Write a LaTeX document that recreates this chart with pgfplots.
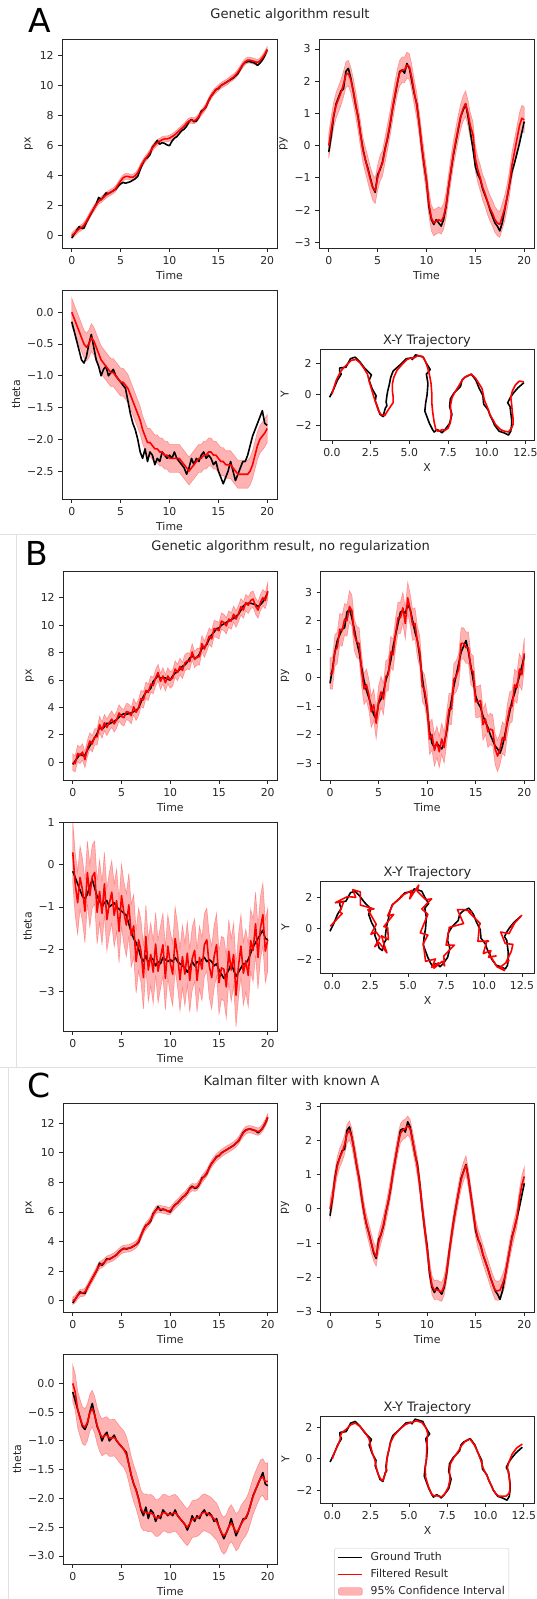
\documentclass[border=0pt]{standalone}
\usepackage{fontspec}
\setmainfont{DejaVu Sans}
\usepackage{pgfplots}
\pgfplotsset{compat=1.18}
\usepackage{pgfplotstable}
\usepgfplotslibrary{fillbetween}

\pgfplotstableread{
t px py th pxA pyA thA pxB pyB thB pxC pyC thC
0 -0.15 -0.2 -0.15 0.0 0.0 0.0 0.0 0.15 0.3 0.0 0.0 0.0
0.25 0.1 0.3 -0.3 0.15 0.5 -0.1 -0.1 0.15 -0.45 0.1 0.33 -0.15
0.5 0.35 0.9 -0.45 0.3 0.95 -0.2 0.65 0.95 -0.9 0.35 0.85 -0.45
0.75 0.6 1.3 -0.6 0.45 1.25 -0.3 0.5 1.05 -0.3 0.51 1.25 -0.6
1.0 0.5 1.5 -0.75 0.55 1.45 -0.4 0.75 1.7 -0.6 0.53 1.5 -0.73
1.25 0.5 1.7 -0.8 0.7 1.65 -0.5 0.2 1.65 -1.1 0.6 1.66 -0.76
1.5 0.9 1.75 -0.7 0.95 1.9 -0.55 1.0 2.05 -0.18 0.88 1.88 -0.68
1.75 1.2 2.3 -0.5 1.25 2.2 -0.5 1.55 2.0 -0.73 1.2 2.19 -0.51
2.0 1.5 2.4 -0.35 1.55 2.25 -0.4 1.35 2.5 -0.28 1.5 2.3 -0.44
2.25 1.8 2.1 -0.55 1.8 2.05 -0.45 1.85 2.35 -0.18 1.8 2.08 -0.55
2.5 2.1 1.7 -0.75 2.05 1.7 -0.55 1.85 1.5 -1.13 2.14 1.69 -0.73
2.75 2.55 1.25 -0.85 2.3 1.3 -0.65 2.75 1.25 -0.63 2.4 1.28 -0.86
3.0 2.4 0.9 -1.0 2.4 0.85 -0.75 2.35 1.2 -1.15 2.49 0.85 -0.94
3.25 2.6 0.35 -0.9 2.55 0.35 -0.8 2.9 0.25 -0.45 2.61 0.38 -0.91
3.5 2.85 -0.1 -0.85 2.7 -0.15 -0.85 2.55 -0.4 -1.3 2.78 -0.08 -0.9
3.75 2.8 -0.45 -1.0 2.8 -0.45 -0.9 2.9 -0.25 -0.93 2.84 -0.43 -0.95
4.0 2.9 -0.7 -0.95 2.9 -0.75 -0.95 3.15 -0.6 -0.65 2.9 -0.71 -0.95
4.25 3.0 -1.0 -0.9 3.0 -1.05 -0.95 2.8 -1.2 -1.2 3.0 -1.0 -0.94
4.5 3.1 -1.3 -1.0 3.15 -1.3 -1.0 3.1 -0.95 -0.85 3.13 -1.26 -0.99
4.75 3.3 -1.45 -1.05 3.4 -1.4 -1.05 3.6 -1.6 -1.58 3.29 -1.4 -1.05
5.0 3.45 -0.9 -1.1 3.65 -1.0 -1.1 3.35 -0.85 -0.73 3.44 -1.0 -1.1
5.25 3.55 -0.75 -1.15 3.85 -0.7 -1.1 3.25 -0.5 -1.15 3.51 -0.73 -1.15
5.5 3.5 -0.5 -1.2 3.95 -0.55 -1.15 3.7 -0.75 -1.43 3.53 -0.46 -1.24
5.75 3.55 -0.1 -1.4 3.95 -0.15 -1.2 3.65 0.05 -0.95 3.55 -0.13 -1.4
6.0 3.6 0.2 -1.6 3.9 0.25 -1.3 3.4 0.1 -1.68 3.61 0.23 -1.59
6.25 3.7 0.6 -1.75 3.9 0.65 -1.4 4.05 0.9 -1.45 3.7 0.63 -1.74
6.5 3.8 1.1 -1.85 4.0 1.1 -1.5 3.65 0.8 -2.3 3.81 1.08 -1.86
6.75 3.95 1.5 -2.0 4.2 1.55 -1.6 4.0 1.55 -1.78 4.03 1.5 -2.01
7.0 4.4 1.9 -2.2 4.55 1.95 -1.7 4.65 2.1 -2.05 4.39 1.9 -2.18
7.25 4.8 2.3 -2.3 4.85 2.25 -1.85 4.55 2.1 -2.68 4.78 2.21 -2.24
7.5 5.1 2.35 -2.15 5.1 2.35 -1.95 5.25 2.45 -1.7 5.05 2.31 -2.24
7.75 5.2 2.25 -2.35 5.3 2.35 -2.05 5.1 1.9 -2.5 5.23 2.35 -2.26
8.0 5.4 2.55 -2.2 5.55 2.5 -2.05 5.7 2.8 -2.13 5.48 2.44 -2.25
8.25 5.9 2.4 -2.25 5.85 2.45 -2.1 5.6 2.4 -2.55 5.83 2.34 -2.28
8.5 6.1 2.0 -2.4 6.05 2.1 -2.15 6.15 1.85 -1.88 6.11 2.0 -2.34
8.75 6.35 1.6 -2.3 6.2 1.65 -2.15 6.55 1.9 -2.53 6.23 1.63 -2.34
9.0 6.1 1.3 -2.35 6.3 1.25 -2.2 5.9 1.25 -2.2 6.19 1.23 -2.3
9.25 6.2 0.7 -2.2 6.4 0.7 -2.2 6.3 0.9 -1.9 6.16 0.68 -2.25
9.5 6.15 0.0 -2.25 6.45 0.05 -2.25 5.8 -0.3 -2.7 6.14 0.03 -2.25
9.75 6.05 -0.6 -2.3 6.45 -0.55 -2.25 6.3 -0.45 -1.93 6.06 -0.58 -2.28
10.0 6.0 -1.1 -2.25 6.5 -1.1 -2.3 6.0 -1.0 -2.33 6.09 -1.18 -2.28
10.25 6.3 -1.9 -2.3 6.6 -1.8 -2.3 6.15 -2.15 -2.6 6.28 -1.8 -2.26
10.5 6.5 -2.3 -2.2 6.7 -2.25 -2.3 6.8 -2.0 -1.75 6.48 -2.24 -2.25
10.75 6.6 -2.45 -2.3 6.85 -2.4 -2.3 6.55 -2.55 -2.15 6.63 -2.38 -2.29
11.0 6.8 -2.3 -2.35 7.0 -2.35 -2.3 7.0 -2.25 -2.73 6.8 -2.36 -2.35
11.25 7.0 -2.4 -2.4 7.15 -2.3 -2.35 6.7 -2.6 -2.18 6.98 -2.4 -2.4
11.5 7.1 -2.5 -2.45 7.3 -2.35 -2.4 7.25 -2.15 -2.6 7.13 -2.43 -2.46
11.75 7.3 -2.3 -2.55 7.5 -2.2 -2.45 7.4 -2.45 -2.1 7.33 -2.25 -2.5
12.0 7.6 -1.9 -2.45 7.65 -1.85 -2.5 7.35 -1.8 -2.75 7.56 -1.85 -2.44
12.25 7.75 -1.3 -2.3 7.7 -1.3 -2.45 8.05 -1.1 -2.23 7.68 -1.33 -2.36
12.5 7.6 -0.8 -2.4 7.65 -0.75 -2.4 7.5 -1.1 -2.03 7.65 -0.8 -2.35
12.75 7.65 -0.3 -2.3 7.75 -0.25 -2.35 7.7 -0.05 -2.75 7.7 -0.33 -2.34
13.0 7.9 0.1 -2.35 7.95 0.15 -2.3 7.7 0.05 -2.2 7.94 0.1 -2.31
13.25 8.3 0.5 -2.25 8.2 0.55 -2.3 8.65 0.3 -2.48 8.23 0.5 -2.26
13.5 8.4 0.9 -2.2 8.4 0.9 -2.25 8.25 1.2 -1.9 8.43 0.85 -2.24
13.75 8.6 1.1 -2.3 8.65 1.15 -2.25 8.7 1.2 -1.78 8.65 1.1 -2.26
14.0 9.0 1.3 -2.25 9.0 1.3 -2.2 9.2 1.05 -2.4 8.98 1.28 -2.28
14.25 9.3 0.9 -2.3 9.3 1.0 -2.2 9.0 1.05 -2.68 9.28 0.88 -2.31
14.5 9.5 0.4 -2.4 9.55 0.6 -2.25 9.75 0.3 -2.18 9.51 0.4 -2.36
14.75 9.75 -0.1 -2.35 9.7 0.35 -2.25 9.7 0.2 -1.9 9.7 -0.11 -2.4
15.0 9.8 -0.65 -2.5 9.85 -0.4 -2.3 9.6 -0.85 -2.8 9.84 -0.58 -2.49
15.25 10.0 -0.9 -2.6 10.0 -0.75 -2.35 10.3 -0.85 -2.45 9.98 -0.88 -2.6
15.5 10.1 -1.05 -2.7 10.1 -1.0 -2.35 10.2 -0.8 -2.48 10.1 -1.09 -2.65
15.75 10.2 -1.35 -2.6 10.2 -1.3 -2.4 9.95 -1.65 -2.9 10.2 -1.33 -2.6
16.0 10.3 -1.55 -2.5 10.3 -1.5 -2.4 10.45 -1.45 -2.05 10.3 -1.55 -2.49
16.25 10.4 -1.75 -2.35 10.45 -1.75 -2.4 10.3 -1.9 -2.5 10.4 -1.76 -2.43
16.5 10.5 -2.0 -2.5 10.55 -1.95 -2.45 10.8 -1.8 -2.13 10.51 -1.99 -2.5
16.75 10.65 -2.2 -2.65 10.7 -2.1 -2.5 10.45 -1.85 -3.1 10.65 -2.2 -2.59
17.0 10.8 -2.4 -2.55 10.9 -2.3 -2.55 10.85 -2.5 -2.4 10.84 -2.38 -2.55
17.25 11.1 -2.5 -2.45 11.15 -2.4 -2.55 11.35 -2.75 -1.93 11.1 -2.4 -2.45
17.5 11.4 -2.65 -2.35 11.4 -2.45 -2.55 11.1 -2.5 -2.58 11.36 -2.38 -2.38
17.75 11.55 -2.4 -2.35 11.6 -2.2 -2.55 11.65 -2.1 -2.28 11.53 -2.2 -2.33
18.0 11.6 -2.0 -2.25 11.7 -1.95 -2.55 11.45 -2.2 -2.63 11.59 -2.0 -2.24
18.25 11.6 -1.6 -2.1 11.7 -1.6 -2.5 11.8 -1.5 -1.8 11.59 -1.6 -2.1
18.5 11.55 -1.2 -1.95 11.65 -1.15 -2.4 11.9 -1.05 -2.03 11.55 -1.2 -1.96
18.75 11.5 -0.8 -1.85 11.6 -0.6 -2.25 11.4 -1.0 -1.4 11.48 -0.84 -1.85
19.0 11.35 -0.55 -1.75 11.55 -0.2 -2.1 11.1 -0.25 -2.2 11.43 -0.54 -1.75
19.25 11.5 -0.25 -1.65 11.65 0.2 -2.0 11.65 -0.35 -1.5 11.51 -0.25 -1.65
19.5 11.7 0.05 -1.55 11.85 0.6 -1.95 12.0 0.3 -1.18 11.73 0.3 -1.63
19.75 12.0 0.4 -1.75 12.1 0.85 -1.9 11.8 0.1 -2.05 12.03 0.7 -1.71
20.0 12.4 0.75 -1.78 12.4 0.8 -1.83 12.5 0.85 -1.78 12.4 0.95 -1.7
}\data

\pgfplotsset{
  myBase/.style={
    scale only axis, anchor=north west,
    axis line style={black!85, line width=0.85pt},
    every tick/.style={black!85, line width=0.85pt},
    tick align=outside, major tick length=3.8pt, tick pos=left,
    xticklabel shift=1pt, yticklabel shift=1pt,
    tick label style={font=\fontsize{10.9}{13}\selectfont, text=black!85},
    label style={font=\fontsize{10.9}{13}\selectfont, text=black!85},
    title style={font=\fontsize{13}{15}\selectfont, text=black!85, yshift=-8pt},
    /pgf/number format/assume math mode=true,
  },
  myTS/.style={myBase, xmin=-1, xmax=21, xtick={0,5,10,15,20}, xlabel={Time}},
  myXY/.style={myBase, xtick={0,2.5,5,7.5,10,12.5},
    xticklabels={0.0,2.5,5.0,7.5,10.0,12.5},
    ytick={-2,0,2}, yticklabels={−2,0,2},
    xlabel={X}, ylabel={Y}, title={X-Y Trajectory}},
  myPy/.style={ytick={-3,-2,-1,0,1,2,3}, yticklabels={−3,−2,−1,0,1,2,3}},
  myTruth/.style={black, line width=1.6pt, line join=round},
  myFilt/.style={red, line width=1.6pt, line join=round},
  myBand/.style={fill=red, fill opacity=0.3, draw=red, draw opacity=0.3, line width=0.6pt},
}
\newcommand{\confband}[2]{%
  \addplot[name path=bu, draw=none, forget plot] table[x=t, y expr=\thisrow{#1}+#2]{\data};
  \addplot[name path=bl, draw=none, forget plot] table[x=t, y expr=\thisrow{#1}-#2]{\data};
  \addplot[myBand, forget plot] fill between[of=bu and bl];
}

\begin{document}
\begin{tikzpicture}
% frames of the stacked panels
\draw[black!12, line width=0.8pt] (0pt,-534pt) -- (536pt,-534pt);
\draw[black!12, line width=0.8pt] (16.4pt,-534pt) -- (16.4pt,-1067pt);
\draw[black!12, line width=0.8pt] (0pt,-1067pt) -- (536pt,-1067pt);
\draw[black!12, line width=0.8pt] (8.5pt,-1067pt) -- (8.5pt,-1599pt);

% ---------------- Panel A ----------------
\node[font=\fontsize{33}{36}\selectfont] at (39.5pt,-20pt) {A};
\node[font=\fontsize{13.1}{15}\selectfont, text=black!85] at (290pt,-15pt) {Genetic algorithm result};

\begin{axis}[myTS, at={(62pt,-39pt)}, width=215pt, height=209pt,
  ymin=-0.82, ymax=13.11, ytick={0,2,4,6,8,10,12}, ylabel={px}]
\confband{pxA}{0.2}
\addplot[myTruth] table[x=t,y=px]{\data};
\addplot[myFilt] table[x=t,y=pxA]{\data};
\end{axis}

\begin{axis}[myTS, myPy, at={(319pt,-39pt)}, width=215pt, height=209pt,
  ymin=-3.18, ymax=3.31, ylabel={py}]
\confband{pyA}{0.4}
\addplot[myTruth] table[x=t,y=py]{\data};
\addplot[myFilt] table[x=t,y=pyA]{\data};
\end{axis}

\begin{axis}[myTS, at={(62pt,-290pt)}, width=215pt, height=209pt,
  ymin=-2.94, ymax=0.35, ytick={-2.5,-2,-1.5,-1,-0.5,0},
  yticklabels={−2.5,−2.0,−1.5,−1.0,−0.5,0.0}, ylabel={theta}]
\confband{thA}{0.22}
\addplot[myTruth] table[x=t,y=th]{\data};
\addplot[myFilt] table[x=t,y=thA]{\data};
\end{axis}

\begin{axis}[myXY, at={(320pt,-349pt)}, width=214pt, height=91pt,
  xmin=-0.77, xmax=13.05, ymin=-2.97, ymax=2.93]
\addplot[myTruth] table[x=px,y=py]{\data};
\addplot[myFilt] table[x=pxA,y=pyA]{\data};
\end{axis}

% ---------------- Panel B ----------------
\node[font=\fontsize{33}{36}\selectfont] at (36.8pt,-553.5pt) {B};
\node[font=\fontsize{13.1}{15}\selectfont, text=black!85] at (290.6pt,-547pt) {Genetic algorithm result, no regularization};

\begin{axis}[myTS, at={(63pt,-571pt)}, width=214.5pt, height=209pt,
  ymin=-1.29, ymax=13.95, ytick={0,2,4,6,8,10,12}, ylabel={px}]
\confband{pxB}{0.6}
\addplot[myTruth] table[x=t,y=px]{\data};
\addplot[myFilt] table[x=t,y=pxB]{\data};
\end{axis}

\begin{axis}[myTS, myPy, at={(320.3pt,-571pt)}, width=213.7pt, height=209pt,
  ymin=-3.59, ymax=3.74, ylabel={py}]
\confband{pyB}{0.55}
\addplot[myTruth] table[x=t,y=py]{\data};
\addplot[myFilt] table[x=t,y=pyB]{\data};
\end{axis}

\begin{axis}[myTS, at={(63pt,-822pt)}, width=214.5pt, height=209pt,
  ymin=-3.95, ymax=1.02, ytick={-3,-2,-1,0,1},
  yticklabels={−3,−2,−1,0,1}, ylabel={theta}]
\confband{thB}{0.75}
\addplot[myTruth] table[x=t,y=th]{\data};
\addplot[myFilt] table[x=t,y=thB]{\data};
\end{axis}

\begin{axis}[myXY, at={(320.7pt,-881pt)}, width=213.7pt, height=92pt,
  xmin=-0.76, xmax=13.32, ymin=-2.91, ymax=3.06]
\addplot[myTruth] table[x=px,y=py]{\data};
\addplot[myFilt] table[x=pxB,y=pyB]{\data};
\end{axis}

% ---------------- Panel C ----------------
\node[font=\fontsize{33}{36}\selectfont] at (39.3pt,-1085pt) {C};
\node[font=\fontsize{13.1}{15}\selectfont, text=black!85] at (291.5pt,-1081pt) {Kalman filter with known A};

\begin{axis}[myTS, at={(63pt,-1103pt)}, width=214.5pt, height=209pt,
  ymin=-0.76, ymax=13.37, ytick={0,2,4,6,8,10,12}, ylabel={px}]
\confband{pxC}{0.25}
\addplot[myTruth] table[x=t,y=px]{\data};
\addplot[myFilt] table[x=t,y=pxC]{\data};
\end{axis}

\begin{axis}[myTS, myPy, at={(320.3pt,-1103pt)}, width=213.7pt, height=209pt,
  ymin=-3.02, ymax=3.1, ylabel={py}]
\confband{pyC}{0.28}
\addplot[myTruth] table[x=t,y=py]{\data};
\addplot[myFilt] table[x=t,y=pyC]{\data};
\end{axis}

\begin{axis}[myTS, at={(63pt,-1354pt)}, width=214.5pt, height=210pt,
  ymin=-3.14, ymax=0.51, ytick={-3,-2.5,-2,-1.5,-1,-0.5,0},
  yticklabels={−3.0,−2.5,−2.0,−1.5,−1.0,−0.5,0.0}, ylabel={theta}]
\confband{thC}{0.32}
\addplot[myTruth] table[x=t,y=th]{\data};
\addplot[myFilt] table[x=t,y=thC]{\data};
\end{axis}

\begin{axis}[myXY, at={(320.7pt,-1416pt)}, width=213.7pt, height=87pt,
  xmin=-0.76, xmax=13.19, ymin=-2.83, ymax=2.75,
  legend style={at={(0.064,-0.517)}, anchor=north west,
    font=\fontsize{10.9}{13}\selectfont, text=black!85,
    draw=black!20, rounded corners=2pt, inner xsep=3pt, inner ysep=3pt,
    row sep=4.5pt, column sep=6.5pt,
    nodes={inner sep=1pt, text height=8pt, text depth=2.5pt},
    cells={anchor=west}},
  legend image code/.code={\draw[#1] (0pt,0pt) -- (24pt,0pt);}]
\addplot[myTruth] table[x=px,y=py]{\data};
\addlegendentry{Ground Truth}
\addplot[myFilt] table[x=pxC,y=pyC]{\data};
\addlegendentry{Filtered Result}
\addlegendimage{legend image code/.code={\fill[red, fill opacity=0.3, draw=red, draw opacity=0.3] (0pt,-3.8pt) rectangle (24pt,3.8pt);}}
\addlegendentry{95\% Confidence Interval}
\end{axis}

\pgfresetboundingbox
\useasboundingbox (0pt,0pt) rectangle (536pt,-1599pt);
\end{tikzpicture}
\end{document}
